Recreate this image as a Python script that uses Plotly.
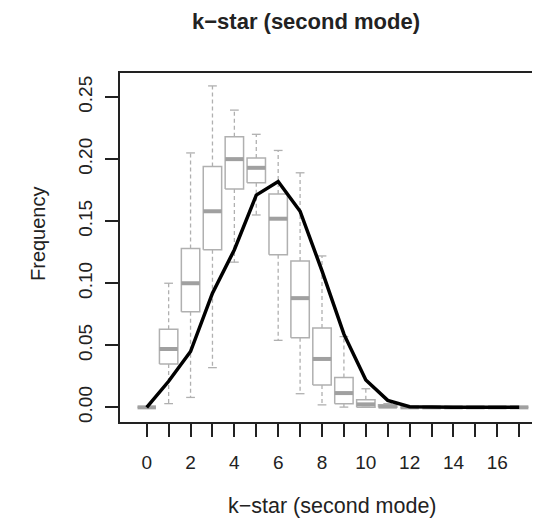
import plotly.graph_objects as go

# ---- data ----
k_vals = list(range(18))
q1 = [0, 0.035, 0.077, 0.127, 0.176, 0.181, 0.123, 0.056, 0.018, 0.003, 0, 0, 0, 0, 0, 0, 0, 0]
median = [0, 0.047, 0.100, 0.158, 0.200, 0.193, 0.152, 0.088, 0.039, 0.0115, 0.0024, 0.0006, 0, 0, 0, 0, 0, 0]
q3 = [0, 0.063, 0.128, 0.194, 0.218, 0.201, 0.172, 0.118, 0.064, 0.024, 0.0062, 0.002, 0, 0, 0, 0, 0, 0]
lower = [0, 0.003, 0.008, 0.032, 0.117, 0.155, 0.054, 0.011, 0.002, 0.0002, 0, 0, 0, 0, 0, 0, 0, 0]
upper = [0, 0.100, 0.205, 0.259, 0.2395, 0.220, 0.207, 0.189, 0.122, 0.057, 0.015, 0.003, 0, 0, 0, 0, 0, 0]
observed = [0, 0.021, 0.045, 0.092, 0.127, 0.171, 0.182, 0.158, 0.110, 0.059, 0.022, 0.0056, 0.0005, 0, 0, 0, 0, 0]

x_tick_vals = list(range(18))
x_tick_text = [str(v) if v % 2 == 0 else "" for v in x_tick_vals]
y_tick_vals = [0, 0.05, 0.10, 0.15, 0.20, 0.25]
y_tick_text = ["0.00", "0.05", "0.10", "0.15", "0.20", "0.25"]

title_text = "k\u2212star (second mode)"
xlab_text = "k\u2212star (second mode)"
ylab_text = "Frequency"

# ---- styling ----
HW = 0.42     # box half width
CW = 0.2      # cap half width
BOX_COL = "#b0b0b0"
MED_COL = "#a0a0a0"
FONT = "Liberation Sans, Arial, sans-serif"
TXT = "#222222"

bx, by = [], []
mx, my = [], []
wx, wy = [], []
cx, cy = [], []
for i, k in enumerate(k_vals):
    bx += [k - HW, k + HW, k + HW, k - HW, k - HW, None]
    by += [q1[i], q1[i], q3[i], q3[i], q1[i], None]
    mx += [k - HW, k + HW, None]
    my += [median[i], median[i], None]
    wx += [k, k, None, k, k, None]
    wy += [q3[i], upper[i], None, q1[i], lower[i], None]
    cx += [k - CW, k + CW, None, k - CW, k + CW, None]
    cy += [upper[i], upper[i], None, lower[i], lower[i], None]

fig = go.Figure()
fig.add_trace(go.Scatter(x=wx, y=wy, mode="lines", line=dict(color=BOX_COL, width=1.3, dash="4px,3px"),
                         hoverinfo="skip", showlegend=False))
fig.add_trace(go.Scatter(x=cx, y=cy, mode="lines", line=dict(color=BOX_COL, width=1.3),
                         hoverinfo="skip", showlegend=False))
fig.add_trace(go.Scatter(x=bx, y=by, mode="lines", line=dict(color=BOX_COL, width=1.5),
                         hoverinfo="skip", showlegend=False))
fig.add_trace(go.Scatter(x=mx, y=my, mode="lines", line=dict(color=MED_COL, width=4),
                         hoverinfo="skip", showlegend=False))
fig.add_trace(go.Scatter(x=k_vals, y=observed, mode="lines", line=dict(color="black", width=3.5),
                         showlegend=False))

# page body has an 8px default margin; plot area lands at x 120..540, y 73..422
fig.update_layout(
    width=532, height=518,
    margin=dict(l=112, r=0, t=65, b=104),
    paper_bgcolor="white", plot_bgcolor="white",
    font=dict(family=FONT, size=19, color=TXT),
    xaxis=dict(range=[-1.22, 17.95], tickmode="array", tickvals=x_tick_vals, ticktext=x_tick_text,
               ticks="outside", ticklen=13, tickwidth=1.5, tickcolor="#222",
               showline=True, linecolor="#222", linewidth=1.5, mirror=True,
               showgrid=False, zeroline=False, ticklabelstandoff=9,
               tickfont=dict(family=FONT, size=19, color=TXT)),
    yaxis=dict(range=[-0.0118, 0.2694], tickmode="array", tickvals=y_tick_vals, ticktext=y_tick_text,
               ticks="outside", ticklen=13, tickwidth=1.5, tickcolor="#222", tickangle=-90,
               showline=True, linecolor="#222", linewidth=1.5,
               showgrid=False, zeroline=False, ticklabelstandoff=6,
               tickfont=dict(family=FONT, size=19, color=TXT)),
    annotations=[
        dict(text="<b>" + title_text + "</b>", xref="paper", yref="paper", x=(306 - 120) / 420, y=1 + (73 - 21) / 349,
             xanchor="center", yanchor="middle", showarrow=False, font=dict(family=FONT, size=22, color=TXT)),
        dict(text=xlab_text, xref="paper", yref="paper", x=(332 - 120) / 420, y=-(506 - 422) / 349,
             xanchor="center", yanchor="middle", showarrow=False, font=dict(family=FONT, size=21.5, color=TXT)),
        dict(text=ylab_text, xref="paper", yref="paper", x=-(120 - 38) / 420, y=(422 - 234) / 349,
             xanchor="center", yanchor="middle", textangle=-90, showarrow=False,
             font=dict(family=FONT, size=20, color=TXT)),
    ],
)

fig.write_html("out.html")
